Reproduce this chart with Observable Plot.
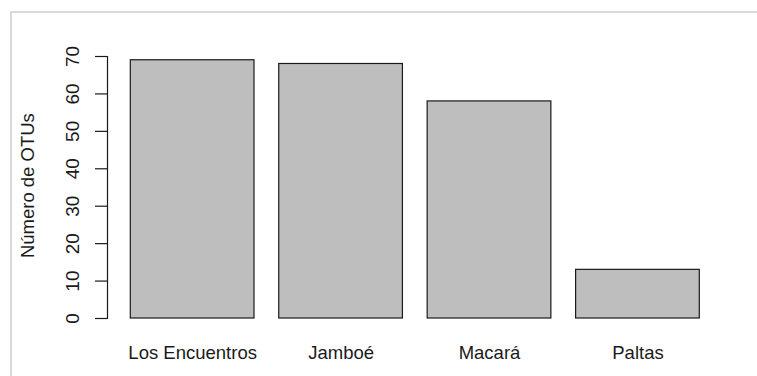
<!DOCTYPE html>
<html>
<head>
<meta charset="utf-8">
<script src="https://cdn.jsdelivr.net/npm/d3@7"></script>
<script src="https://cdn.jsdelivr.net/npm/@observablehq/plot@0.6"></script>
<style>
  html, body { margin: 0; padding: 0; background: #fff; }
  #wrap { position: relative; width: 757px; height: 376px; overflow: hidden; }
  #edge { position: absolute; left: 10px; top: 11px; width: 800px; height: 400px;
          border-top: 2px solid #d8d8d8; border-left: 2px solid #d8d8d8; pointer-events: none; }
  svg { display: block; }
</style>
</head>
<body>
<div id="wrap"><div id="edge"></div></div>
<script>
// OTU counts per site
const sites = ["Los Encuentros", "Jamboé", "Macará", "Paltas"];
const otus = [69, 68, 58, 13];
const yTicks = [0, 10, 20, 30, 40, 50, 60, 70];
const yTitle = "Número de OTUs";

const rows = sites.map((s, i) => ({site: s, n: otus[i]}));
const font = "Liberation Sans, Arial, Helvetica, sans-serif";
const ink = "#1a1a1a";

const chart = Plot.plot({
  width: 757,
  height: 376,
  marginLeft: 107,
  marginRight: 40,
  marginTop: 56,
  marginBottom: 58,
  style: {fontFamily: font, fontSize: "18.5px", color: ink, background: "transparent"},
  x: {domain: sites, range: [130.3, 699.3], paddingInner: 1 / 6, paddingOuter: 0, round: false, label: null},
  y: {domain: [0, 70], label: null},
  marks: [
    Plot.barY(rows, {x: "site", y: "n", fill: "#bebebe", stroke: ink, strokeWidth: 1.2}),
    // left axis line and ticks
    Plot.frame({anchor: "left", stroke: ink, strokeWidth: 1.2}),
    Plot.axisY({ticks: yTicks, tickSize: 12, tickFormat: () => "", stroke: ink, strokeWidth: 1.2, label: null}),
    Plot.text(yTicks, {y: d => d, text: d => String(d), frameAnchor: "left", textAnchor: "middle", dx: -35, rotate: -90, fill: ink, fontSize: 19}),
    Plot.text([yTitle], {y: [35.5], text: d => d, frameAnchor: "left", textAnchor: "middle", dx: -79, rotate: -90, fill: ink, fontSize: 18.5}),
    Plot.axisX({tickSize: 0, tickPadding: 27, fill: ink, fontSize: 18.5, label: null})
  ]
});
document.getElementById("wrap").insertBefore(chart, document.getElementById("edge"));
</script>
</body>
</html>
